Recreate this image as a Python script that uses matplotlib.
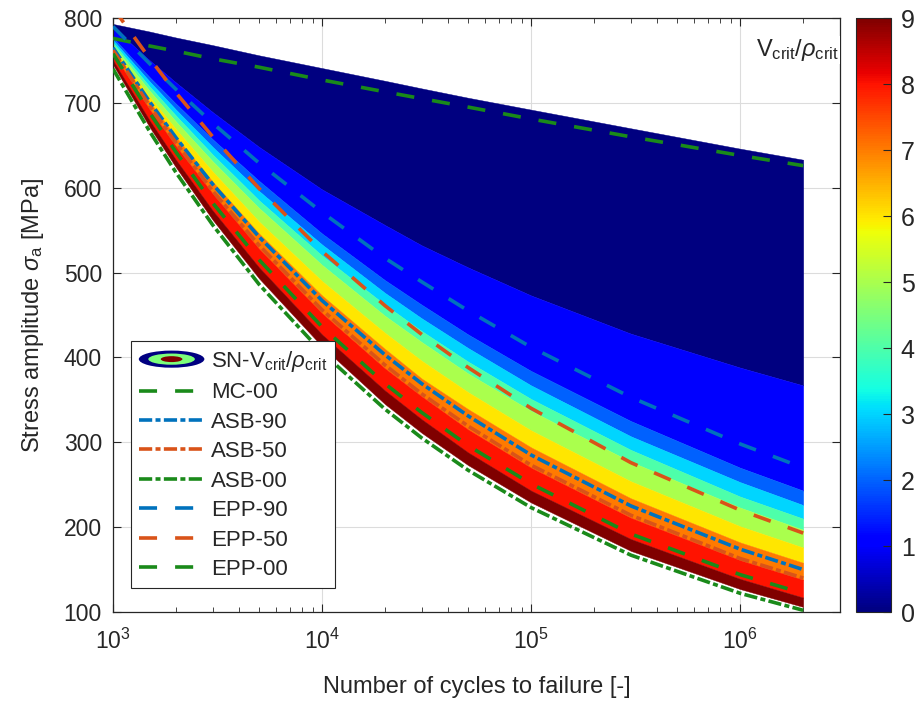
import matplotlib
matplotlib.use("Agg")
import matplotlib.pyplot as plt
from matplotlib import cm, colors
from matplotlib.patches import Ellipse
from matplotlib.legend_handler import HandlerBase

plt.rcParams["font.family"] = ["Liberation Sans", "DejaVu Sans"]
plt.rcParams["mathtext.fontset"] = "custom"
plt.rcParams["mathtext.rm"] = "Liberation Sans"
plt.rcParams["mathtext.it"] = "Liberation Sans:italic"
plt.rcParams["lines.scale_dashes"] = False

cycles = [1e3, 1.5e3, 2e3, 3e3, 5e3, 1e4, 2e4, 3e4, 5e4, 1e5, 3e5, 1e6, 2e6]

# edges of the Vcrit/rho_crit bands [MPa], from level 0 (top) down to 9+ (bottom)
edge_0 = [793, 784, 777, 768, 756, 741, 726, 717, 706, 692, 670, 646, 633]
edge_1 = [789, 750, 724, 689, 648, 598, 556, 532, 506, 473, 428, 388, 367]
edge_2 = [777, 730, 699, 657, 608, 546, 491, 462, 427, 384, 325, 270, 243]
edge_3 = [774, 725, 692, 648, 596, 533, 476, 446, 411, 367, 307, 253, 226]
edge_4 = [771, 719, 685, 639, 585, 520, 462, 431, 395, 351, 291, 236, 210]
edge_5 = [768, 714, 678, 631, 576, 509, 449, 418, 381, 337, 277, 223, 197]
edge_6 = [765, 707, 669, 619, 560, 490, 429, 396, 359, 314, 254, 201, 176]
edge_7 = [762, 701, 660, 607, 546, 473, 410, 375, 339, 294, 234, 182, 158]
edge_8 = [758, 692, 649, 593, 528, 452, 387, 354, 315, 270, 211, 161, 138]
edge_9 = [750, 679, 633, 573, 506, 427, 361, 327, 288, 243, 186, 139, 117]
edge_10 = [745, 671, 624, 562, 493, 413, 345, 311, 273, 229, 172, 127, 106]

# S-N curves of the other criteria [MPa]
mc_00 = [776, 767, 761, 752, 742, 727, 713, 705, 695, 681, 660, 638, 626]
asb_90 = [765, 701, 659, 604, 542, 467, 403, 369, 331, 285, 225, 174, 150]
asb_50 = [762, 696, 653, 596, 532, 456, 391, 357, 319, 273, 214, 163, 140]
asb_00 = [740, 666, 618, 556, 486, 406, 339, 305, 267, 223, 167, 122, 102]
epp_90 = [790, 746, 716, 676, 629, 571, 517, 489, 455, 412, 353, 298, 270]
epp_50 = [812, 752, 712, 660, 599, 525, 461, 427, 388, 340, 276, 220, 193]
epp_00 = [758, 688, 642, 582, 515, 436, 369, 335, 296, 251, 192, 144, 122]

edges = [edge_0, edge_1, edge_2, edge_3, edge_4, edge_5,
         edge_6, edge_7, edge_8, edge_9, edge_10]

blue = "#0072BD"
orange = "#D95319"
green = "#1a8a1a"
dash = [13, 13]
dashdot = [9.5, 2.4, 3.6, 2.4]
jet = plt.get_cmap("jet")
txt = "#262626"


class ContourProxy:
    pass


class ContourIcon(HandlerBase):
    # three nested ellipses like the matlab contourf legend icon
    def create_artists(self, legend, orig_handle, xdescent, ydescent,
                       width, height, fontsize, trans):
        cx = 0.5 * width - xdescent
        cy = 0.5 * height - ydescent
        out = []
        for kw, kh, c in [(1.0, 1.1, jet(0.0)), (0.71, 0.72, jet(0.5)),
                          (0.33, 0.38, jet(1.0))]:
            e = Ellipse((cx, cy), width * kw, height * kh,
                        facecolor=c, edgecolor="none", transform=trans)
            out.append(e)
        return out


fig = plt.figure(figsize=(9.18, 7.02), dpi=100)
ax = fig.add_axes([113 / 918, 1 - 612 / 702, 727 / 918, 594 / 702])

for i in range(10):
    c = jet(i / 9)
    ax.fill_between(cycles, edges[i + 1], edges[i], facecolor=c,
                    edgecolor=c, linewidth=0.3, zorder=1)

lw = 2.6
l1, = ax.plot(cycles, mc_00, color=green, lw=lw, dashes=dash, zorder=3)
l2, = ax.plot(cycles, asb_90, color=blue, lw=lw, dashes=dashdot, zorder=3)
l3, = ax.plot(cycles, asb_50, color=orange, lw=lw, dashes=dashdot, zorder=3)
l4, = ax.plot(cycles, asb_00, color=green, lw=lw, dashes=dashdot, zorder=3)
l5, = ax.plot(cycles, epp_90, color=blue, lw=lw, dashes=dash, zorder=3)
l6, = ax.plot(cycles, epp_50, color=orange, lw=lw, dashes=dash, zorder=3)
l7, = ax.plot(cycles, epp_00, color=green, lw=lw, dashes=dash, zorder=3)
for l in [l1, l2, l3, l4, l5, l6, l7]:
    l.set_dash_capstyle("butt")

ax.set_xscale("log")
ax.set_xlim(1e3, 3e6)
ax.set_ylim(100, 800)
ax.set_yticks(range(100, 801, 100))
ax.grid(True, which="major", color="#dcdcdc", lw=0.8)
ax.set_axisbelow(True)
ax.tick_params(which="both", direction="in", top=True, right=True,
               labelsize=16.5, colors=txt)
ax.tick_params(which="major", length=6)
ax.tick_params(which="minor", length=3.5)
ax.tick_params(axis="x", pad=12)
ax.tick_params(axis="y", pad=8)
for s in ax.spines.values():
    s.set_color(txt)
    s.set_linewidth(0.9)
ax.set_xlabel("Number of cycles to failure [-]", fontsize=17, color=txt,
              labelpad=16)
ax.set_ylabel(r"Stress amplitude $\sigma_{\rm a}$ [MPa]", fontsize=17,
              color=txt, labelpad=13)

handles = [ContourProxy(), l1, l2, l3, l4, l5, l6, l7]
labels = [r"SN-V$_{\rm crit}$/$\rho_{\rm crit}$", "MC-00", "ASB-90", "ASB-50",
          "ASB-00", "EPP-90", "EPP-50", "EPP-00"]
leg = ax.legend(handles, labels, handler_map={ContourProxy: ContourIcon()},
                loc="upper left", bbox_to_anchor=(0.0248, 0.456),
                borderaxespad=0, fontsize=16, handlelength=2.95,
                handletextpad=0.3, labelspacing=0.38, borderpad=0.35,
                fancybox=False, edgecolor=txt, framealpha=1)
leg.get_frame().set_linewidth(0.8)
for t in leg.get_texts():
    t.set_color(txt)

cax = fig.add_axes([856 / 918, 1 - 612 / 702, 35 / 918, 594 / 702])
sm = cm.ScalarMappable(norm=colors.Normalize(0, 9), cmap=jet)
cb = fig.colorbar(sm, cax=cax, ticks=range(10))
cb.ax.tick_params(direction="in", length=6, labelsize=18, colors=txt, pad=7)
cb.outline.set_edgecolor(txt)
cb.outline.set_linewidth(0.8)

fig.text(797 / 918, 1 - 50 / 702, r"V$_{\rm crit}$/$\rho_{\rm crit}$",
         ha="center", va="center", fontsize=17, color=txt,
         bbox=dict(facecolor="white", edgecolor="none", pad=1))

fig.savefig("out.png", dpi=100)
